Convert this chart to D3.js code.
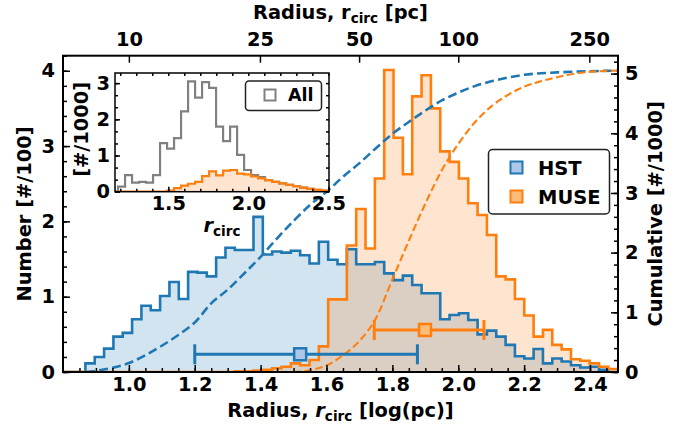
<!DOCTYPE html>
<html>
<head>
<meta charset="utf-8">
<script src="https://cdn.jsdelivr.net/npm/d3@7"></script>
<style>
  body { margin: 0; background: #fff; }
  svg text { font-family: "DejaVu Sans", sans-serif; font-weight: bold; fill: #000; }
</style>
</head>
<body>
<svg id="chart" width="686" height="430"></svg>
<script>
// ---- histogram binning, in log10(r_circ / pc) ----
const binStart = 0.868;
const binWidth = 0.02835;

// number of clusters per bin [#/100]
const hstCounts = [0.115, 0.20, 0.31, 0.47, 0.52, 0.70, 0.88, 0.82, 1.01, 1.195,
  0.97, 1.33, 1.32, 1.27, 1.52, 1.65, 1.62, 1.62, 2.06, 1.56,
  1.60, 1.585, 1.61, 1.55, 1.44, 1.73, 1.49, 1.43, 1.63, 1.43,
  1.43, 1.46, 1.31, 1.22, 1.28, 1.155, 1.045, 1.045, 0.70, 0.757,
  0.78, 0.69, 0.50, 0.55, 0.47, 0.36, 0.21, 0.18, 0.305, 0.115,
  0.18, 0.14, 0.09, 0.06, 0.07, 0.03];
const museCounts = [0, 0, 0, 0, 0, 0, 0, 0, 0, 0,
  0, 0, 0, 0, 0, 0, 0.01, 0.01, 0.02, 0.03,
  0.05, 0.07, 0.115, 0.09, 0.16, 0.34, 0.965, 0.965, 1.68, 2.165,
  1.64, 2.57, 4.01, 3.11, 2.625, 3.66, 3.94, 3.50, 2.93, 2.79,
  2.57, 2.24, 2.085, 1.82, 1.27, 1.23, 0.97, 0.75, 0.47, 0.56,
  0.36, 0.30, 0.17, 0.15, 0.115, 0.07, 0.04];

// cumulative distributions [#/1000]
const hstCumLogR = [0.87, 0.9, 0.95, 1.0, 1.05, 1.1, 1.15, 1.2, 1.25, 1.3, 1.35, 1.4, 1.45, 1.5,
  1.55, 1.6, 1.65, 1.7, 1.75, 1.8, 1.85, 1.9, 1.95, 2.0, 2.05, 2.1, 2.2, 2.3, 2.4, 2.49];
const hstCumulative = [0.0, 0.02, 0.07, 0.15, 0.28, 0.44, 0.62, 0.83, 1.15, 1.38, 1.65, 1.93, 2.24, 2.53,
  2.8, 3.02, 3.27, 3.5, 3.75, 3.99, 4.19, 4.38, 4.55, 4.68, 4.79, 4.87, 4.98, 5.02, 5.04, 5.05];
const museCumLogR = [1.5, 1.55, 1.6, 1.65, 1.7, 1.75, 1.8, 1.85, 1.9, 1.95, 2.0, 2.05, 2.1,
  2.15, 2.2, 2.25, 2.3, 2.4, 2.49];
const museCumulative = [0.0, 0.03, 0.11, 0.28, 0.52, 0.9, 1.55, 2.2, 2.82, 3.38, 3.82, 4.18, 4.45,
  4.64, 4.78, 4.87, 4.94, 5.03, 5.05];

// median and 16th-84th percentile range of each sample
const sampleNames = ["HST", "MUSE"];
const sampleMedian = [1.52, 1.899];
const sampleLow = [1.2, 1.745];
const sampleHigh = [1.876, 2.078];
const sampleLevel = [0.235, 0.558];

// top axis in parsec
const topTicksPc = [10, 25, 50, 100, 250];
const bottomTicks = [1.0, 1.2, 1.4, 1.6, 1.8, 2.0, 2.2, 2.4];

// ---- inset: all clusters vs MUSE [#/1000] ----
const insetBinStart = 1.186;
const insetBinWidth = 0.04375;
const allCounts = [0.14, 0.46, 0.25, 0.27, 0.25, 0.46, 1.34, 1.19, 1.48, 2.22,
  3.05, 2.60, 3.03, 2.87, 1.80, 1.40, 1.80, 1.02, 0.60, 0.46,
  0.40, 0.32, 0.27, 0.23, 0.19, 0.15, 0.11, 0.08, 0.05, 0.03];
const insetMuseCounts = [0, 0, 0, 0, 0, 0, 0, 0.03, 0.10, 0.17,
  0.22, 0.27, 0.43, 0.56, 0.45, 0.58, 0.60, 0.50, 0.48, 0.42,
  0.37, 0.32, 0.27, 0.23, 0.19, 0.15, 0.11, 0.08, 0.05, 0.03];

// ---- colours ----
const BLUE = "#1f77b4", ORANGE = "#ff7f0e", GREY = "#808080";
const BLUE_FILL = "rgba(31,119,180,0.2)", ORANGE_FILL = "rgba(255,127,14,0.2)";
const BLUE_MARK = "#aec7e8", ORANGE_MARK = "#ffbb78";

const svg = d3.select("#chart");
svg.append("rect").attr("width", 686).attr("height", 430).attr("fill", "#fff");

const P = { l: 63, r: 618, t: 55.7, b: 372 };
const x = d3.scaleLinear().domain([0.8, 2.485]).range([P.l, P.r]);
const y = d3.scaleLinear().domain([0, 4.2]).range([P.b, P.t]);
const yCum = d3.scaleLinear().domain([0, 5.3]).range([P.b, P.t]);

const defs = svg.append("defs");
defs.append("clipPath").attr("id", "plotClip").append("rect")
  .attr("x", P.l).attr("y", P.t).attr("width", P.r - P.l).attr("height", P.b - P.t);

// step outline of a histogram, padded with empty bins on both sides
function stepPoints(start, width, counts, padL, padR) {
  const vals = [...Array(padL).fill(0), ...counts, ...Array(padR).fill(0)];
  const s = start - padL * width;
  const pts = [];
  vals.forEach((c, i) => { pts.push([s + i * width, c]); pts.push([s + (i + 1) * width, c]); });
  return pts;
}

const plot = svg.append("g").attr("clip-path", "url(#plotClip)");
const hstPts = stepPoints(binStart, binWidth, hstCounts, 4, 3);
const musePts = stepPoints(binStart, binWidth, museCounts, 4, 2);
const area = d3.area().x(d => x(d[0])).y0(y(0)).y1(d => y(d[1]));
const line = d3.line().x(d => x(d[0])).y(d => y(d[1]));

plot.append("path").attr("d", area(hstPts)).attr("fill", BLUE_FILL);
plot.append("path").attr("d", area(musePts)).attr("fill", ORANGE_FILL);
plot.append("path").attr("d", line(hstPts)).attr("fill", "none")
  .attr("stroke", BLUE).attr("stroke-width", 2.6).attr("stroke-linejoin", "miter");
plot.append("path").attr("d", line(musePts)).attr("fill", "none")
  .attr("stroke", ORANGE).attr("stroke-width", 2.6).attr("stroke-linejoin", "miter");

// cumulative curves on the right-hand axis
const cumLine = d3.line().x(d => x(d[0])).y(d => yCum(d[1])).curve(d3.curveMonotoneX);
plot.append("path").attr("d", cumLine(hstCumLogR.map((v, i) => [v, hstCumulative[i]])))
  .attr("fill", "none").attr("stroke", BLUE).attr("stroke-width", 2.6).attr("stroke-dasharray", "9,4.2");
plot.append("path").attr("d", cumLine(museCumLogR.map((v, i) => [v, museCumulative[i]])))
  .attr("fill", "none").attr("stroke", ORANGE).attr("stroke-width", 2.1).attr("stroke-dasharray", "7.5,3.5");

// median markers with percentile range
const markColours = [[BLUE, BLUE_MARK], [ORANGE, ORANGE_MARK]];
sampleNames.forEach((name, i) => {
  const g = svg.append("g");
  const yy = y(sampleLevel[i]);
  const [edge, fill] = markColours[i];
  g.append("line").attr("x1", x(sampleLow[i])).attr("x2", x(sampleHigh[i]))
    .attr("y1", yy).attr("y2", yy).attr("stroke", edge).attr("stroke-width", 3);
  [sampleLow[i], sampleHigh[i]].forEach(v => {
    g.append("line").attr("x1", x(v)).attr("x2", x(v)).attr("y1", yy - 10).attr("y2", yy + 10)
      .attr("stroke", edge).attr("stroke-width", 3);
  });
  g.append("rect").attr("x", x(sampleMedian[i]) - 6).attr("y", yy - 6).attr("width", 12).attr("height", 12)
    .attr("fill", fill).attr("stroke", edge).attr("stroke-width", 2.5);
});

// ---- axes ----
function styleAxis(g, size) {
  g.select(".domain").remove();
  g.selectAll(".tick line").attr("stroke", "#000").attr("stroke-width", 1.5);
  g.selectAll(".tick text").attr("font-family", "DejaVu Sans").attr("font-weight", "bold")
    .attr("font-size", size).attr("fill", "#000");
}
const TICK_FS = 19.4;
const range = (a, b, s) => d3.range(Math.round(a / s), Math.round(b / s) + 1).map(k => +(k * s).toFixed(4));

// bottom
svg.append("g").attr("transform", `translate(0,${P.b})`)
  .call(d3.axisBottom(x).tickValues(range(0.85, 2.45, 0.05)).tickSizeInner(-4).tickFormat(""))
  .call(g => styleAxis(g, TICK_FS));
svg.append("g").attr("transform", `translate(0,${P.b})`)
  .call(d3.axisBottom(x).tickValues(bottomTicks).tickSizeInner(-7).tickPadding(5).tickFormat(d3.format(".1f")))
  .call(g => styleAxis(g, TICK_FS));
// top, in parsec
svg.append("g").attr("transform", `translate(0,${P.t})`)
  .call(d3.axisTop(x).tickValues(topTicksPc.map(v => Math.log10(v))).tickSizeInner(-7).tickPadding(10)
    .tickFormat((d, i) => topTicksPc[i]))
  .call(g => styleAxis(g, TICK_FS));
// left
svg.append("g").attr("transform", `translate(${P.l},0)`)
  .call(d3.axisLeft(y).tickValues(range(0, 4.2, 0.2)).tickSizeInner(-4).tickFormat(""))
  .call(g => styleAxis(g, TICK_FS));
svg.append("g").attr("transform", `translate(${P.l},0)`)
  .call(d3.axisLeft(y).tickValues([0, 1, 2, 3, 4]).tickSizeInner(-7).tickPadding(8).tickFormat(d3.format("d")))
  .call(g => styleAxis(g, TICK_FS));
// right, cumulative
svg.append("g").attr("transform", `translate(${P.r},0)`)
  .call(d3.axisRight(yCum).tickValues(range(0, 5.2, 0.2)).tickSizeInner(-4).tickFormat(""))
  .call(g => styleAxis(g, TICK_FS));
svg.append("g").attr("transform", `translate(${P.r},0)`)
  .call(d3.axisRight(yCum).tickValues([0, 1, 2, 3, 4, 5]).tickSizeInner(-7).tickPadding(7).tickFormat(d3.format("d")))
  .call(g => styleAxis(g, TICK_FS));

svg.append("rect").attr("x", P.l).attr("y", P.t).attr("width", P.r - P.l).attr("height", P.b - P.t)
  .attr("fill", "none").attr("stroke", "#000").attr("stroke-width", 2);

// text with a subscripted "circ"
function labelWithSub(parent, parts, size) {
  const t = parent.append("text").attr("font-size", size).attr("text-anchor", "middle");
  parts.forEach(p => {
    const s = t.append("tspan").text(p.t);
    if (p.italic) s.attr("font-style", "italic");
    if (p.sub) s.attr("font-size", size * 0.7).attr("dy", size * 0.22);
    if (p.after) s.attr("dy", -size * 0.22);
  });
  return t;
}
const LABEL_FS = 19.4;
labelWithSub(svg, [{ t: "Radius, r" }, { t: "circ", sub: true }, { t: " [pc]", after: true }], LABEL_FS)
  .attr("x", (P.l + P.r) / 2).attr("y", 19);
labelWithSub(svg, [{ t: "Radius, " }, { t: "r", italic: true }, { t: "circ", sub: true }, { t: " [log(pc)]", after: true }], LABEL_FS)
  .attr("x", (P.l + P.r) / 2).attr("y", 417);
svg.append("text").attr("font-size", LABEL_FS).attr("text-anchor", "middle")
  .attr("transform", `translate(31,${(P.t + P.b) / 2}) rotate(-90)`).text("Number [#/100]");
svg.append("text").attr("font-size", LABEL_FS).attr("text-anchor", "middle")
  .attr("transform", `translate(662,${(P.t + P.b) / 2}) rotate(-90)`).text("Cumulative [#/1000]");

// legend
const leg = svg.append("g");
leg.append("rect").attr("x", 488.5).attr("y", 149.5).attr("width", 121).attr("height", 64.5).attr("rx", 4)
  .attr("fill", "#fff").attr("stroke", "#222").attr("stroke-width", 1.5);
sampleNames.forEach((name, i) => {
  const yy = 167.5 + i * 29;
  leg.append("rect").attr("x", 510.5).attr("y", yy - 6).attr("width", 12).attr("height", 12)
    .attr("fill", markColours[i][1]).attr("stroke", markColours[i][0]).attr("stroke-width", 2);
  leg.append("text").attr("x", 538).attr("y", yy + 7).attr("font-size", 19.5).text(name);
});

// ---- inset ----
const I = { l: 115, r: 329, t: 73, b: 191.7 };
const xi = d3.scaleLinear().domain([1.167, 2.504]).range([I.l, I.r]);
const yi = d3.scaleLinear().domain([0, 3.28]).range([I.b, I.t]);
const inset = svg.append("g");
inset.append("rect").attr("x", I.l).attr("y", I.t).attr("width", I.r - I.l).attr("height", I.b - I.t).attr("fill", "#fff");
defs.append("clipPath").attr("id", "insetClip").append("rect")
  .attr("x", I.l).attr("y", I.t).attr("width", I.r - I.l).attr("height", I.b - I.t);
const ip = inset.append("g").attr("clip-path", "url(#insetClip)");
const allPts = stepPoints(insetBinStart, insetBinWidth, allCounts, 1, 1);
const imPts = stepPoints(insetBinStart, insetBinWidth, insetMuseCounts, 1, 1);
ip.append("path").attr("d", d3.area().x(d => xi(d[0])).y0(yi(0)).y1(d => yi(d[1]))(imPts)).attr("fill", ORANGE_FILL);
const iline = d3.line().x(d => xi(d[0])).y(d => yi(d[1]));
ip.append("path").attr("d", iline(allPts)).attr("fill", "none").attr("stroke", GREY).attr("stroke-width", 2.2);
ip.append("path").attr("d", iline(imPts)).attr("fill", "none").attr("stroke", ORANGE).attr("stroke-width", 2.2);

const INSET_FS = 19.4;
inset.append("g").attr("transform", `translate(0,${I.b})`)
  .call(d3.axisBottom(xi).tickValues(range(1.2, 2.5, 0.1)).tickSizeInner(-3).tickFormat(""))
  .call(g => styleAxis(g, INSET_FS));
inset.append("g").attr("transform", `translate(0,${I.b})`)
  .call(d3.axisBottom(xi).tickValues([1.5, 2.0, 2.5]).tickSizeInner(-5).tickPadding(5).tickFormat(d3.format(".1f")))
  .call(g => styleAxis(g, INSET_FS));
inset.append("g").attr("transform", `translate(0,${I.t})`)
  .call(d3.axisTop(xi).tickValues(range(1.2, 2.5, 0.1)).tickSizeInner(-3).tickFormat(""))
  .call(g => styleAxis(g, INSET_FS));
const thirds = d3.range(0, 10).map(k => k / 3).filter(v => v <= 3.28);
inset.append("g").attr("transform", `translate(${I.l},0)`)
  .call(d3.axisLeft(yi).tickValues(thirds).tickSizeInner(-3).tickFormat(""))
  .call(g => styleAxis(g, INSET_FS));
inset.append("g").attr("transform", `translate(${I.l},0)`)
  .call(d3.axisLeft(yi).tickValues([0, 1, 2, 3]).tickSizeInner(-5).tickPadding(5).tickFormat(d3.format("d")))
  .call(g => styleAxis(g, INSET_FS));
inset.append("g").attr("transform", `translate(${I.r},0)`)
  .call(d3.axisRight(yi).tickValues(thirds).tickSizeInner(-3).tickFormat(""))
  .call(g => styleAxis(g, INSET_FS));
inset.append("rect").attr("x", I.l).attr("y", I.t).attr("width", I.r - I.l).attr("height", I.b - I.t)
  .attr("fill", "none").attr("stroke", "#000").attr("stroke-width", 1.5);

inset.append("text").attr("font-size", 19.4).attr("text-anchor", "middle")
  .attr("transform", `translate(88,${(I.t + I.b) / 2 - 3}) rotate(-90)`).text("[#/1000]");
labelWithSub(inset, [{ t: "r", italic: true }, { t: "circ", sub: true }], 19.4)
  .attr("x", 222).attr("y", 232);

const ileg = inset.append("g");
ileg.append("rect").attr("x", 245.5).attr("y", 81).attr("width", 76).attr("height", 29.5).attr("rx", 3.5)
  .attr("fill", "#fff").attr("stroke", "#222").attr("stroke-width", 1.5);
ileg.append("rect").attr("x", 264.5).attr("y", 89.5).attr("width", 11).attr("height", 11)
  .attr("fill", "none").attr("stroke", GREY).attr("stroke-width", 2);
ileg.append("text").attr("x", 288).attr("y", 101).attr("font-size", 17.5).text("All");
</script>
</body>
</html>
